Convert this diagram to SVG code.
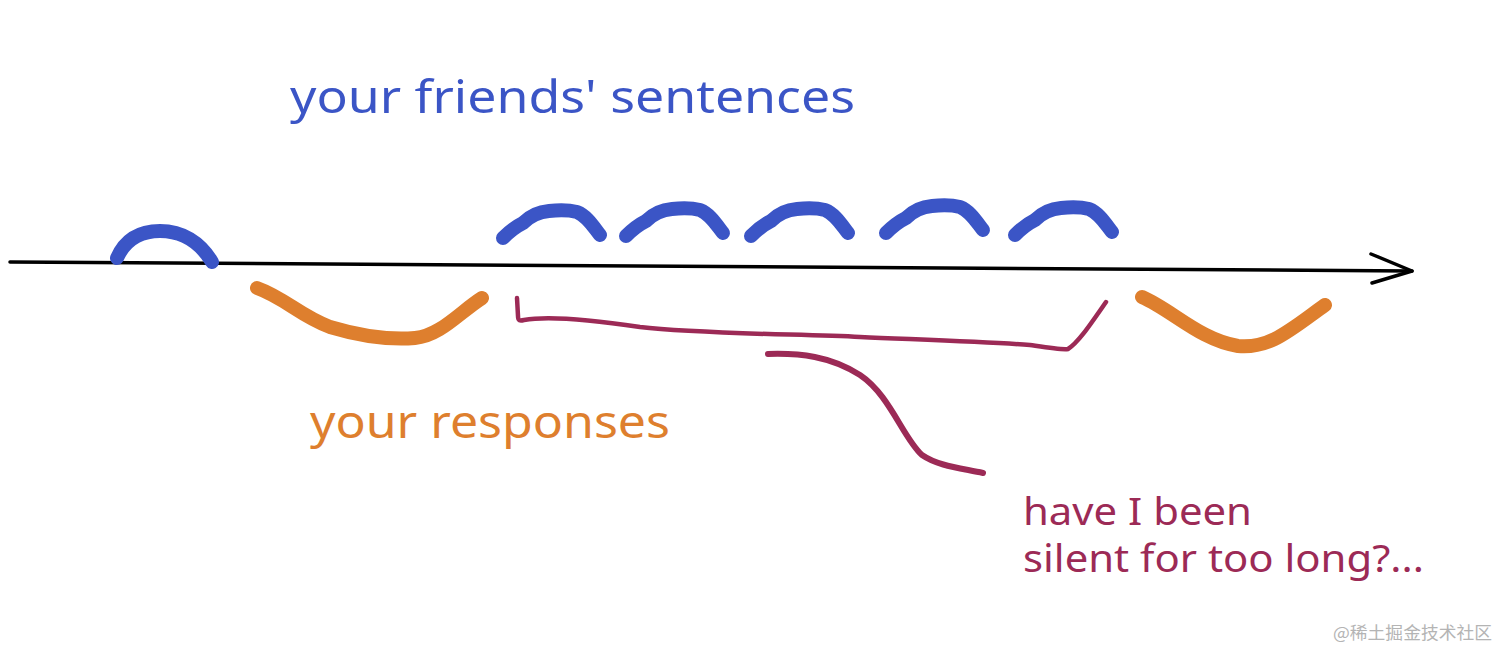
<svg xmlns="http://www.w3.org/2000/svg" width="1512" height="663" viewBox="0 0 1512 663">
<style>
.blue{fill:none;stroke:#3B55C6;stroke-width:14;stroke-linecap:round;stroke-linejoin:round}
.orange{fill:none;stroke:#DE7F2E;stroke-width:14;stroke-linecap:round;stroke-linejoin:round}
.pink{fill:none;stroke:#9C2A56;stroke-linecap:round;stroke-linejoin:round}
.axis{fill:none;stroke:#000;stroke-width:3.5;stroke-linecap:round;stroke-linejoin:round}
.hand{font-family:"Noto Sans","DejaVu Sans",sans-serif}
</style>
<defs>
<path id="dome" d="M0,31 C6,25 12,20 20,16 C26,10 34,5 46,4 C56,3 66,3 74,5 C84,9 90,19 97,28"/>
</defs>
<rect width="1512" height="663" fill="#fff"/>
<g id="timeline">
<path class="axis" d="M10,262 L1412,271"/>
<path class="axis" d="M1371,254 L1412,271 L1372,283"/>
</g>
<g id="friends-sentences">
<path class="blue" d="M117,258 C125,240 140,231 160,231 C182,231 200,242 212,262"/>
<use href="#dome" class="blue" transform="translate(503,207)"/>
<use href="#dome" class="blue" transform="translate(626,205)"/>
<use href="#dome" class="blue" transform="translate(751,205)"/>
<use href="#dome" class="blue" transform="translate(886,202)"/>
<use href="#dome" class="blue" transform="translate(1015,204)"/>
</g>
<g id="responses">
<path class="orange" d="M257,288 C285,298 300,316 330,327 C360,336 390,340 415,338 C440,336 460,312 482,298"/>
<path class="orange" d="M1142,297 C1172,310 1200,340 1238,346 C1270,349 1290,330 1325,305"/>
</g>
<g id="silence">
<path class="pink" stroke-width="4.5" d="M517,298 L518,316 C518,321 520,321 524,320 C545,316 580,318 640,327 C700,334 800,334 860,337 C930,340 990,342 1030,345 C1050,348 1062,350 1068,349 C1078,343 1090,325 1106,302"/>
<path class="pink" stroke-width="6" d="M768,354 C800,353 830,356 860,375 C890,395 903,438 922,455 C938,466 960,468 983,473"/>
</g>
<g id="labels">
<text class="hand" x="290" y="113" font-size="46" fill="#3B55C6" textLength="565" lengthAdjust="spacingAndGlyphs">your friends' sentences</text>
<text class="hand" x="310" y="438" font-size="46" fill="#DE7F2E" textLength="360" lengthAdjust="spacingAndGlyphs">your responses</text>
<text class="hand" x="1023" y="525" font-size="38" fill="#9C2A56" textLength="229" lengthAdjust="spacingAndGlyphs">have I been</text>
<text class="hand" x="1023" y="572" font-size="38" fill="#9C2A56" textLength="401" lengthAdjust="spacingAndGlyphs">silent for too long?...</text>
</g>
<g id="watermark">
<text x="1333" y="639" font-size="17" fill="#B4B4B4" font-family="'Noto Sans CJK SC',sans-serif" textLength="159" lengthAdjust="spacingAndGlyphs">@稀土掘金技术社区</text>
</g>
</svg>
